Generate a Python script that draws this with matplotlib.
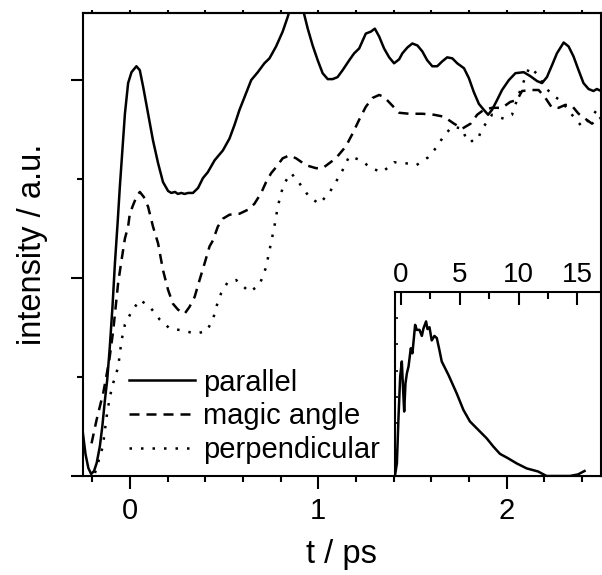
import matplotlib
matplotlib.use("Agg")
import matplotlib.pyplot as plt
import numpy as np
from matplotlib.ticker import MultipleLocator, FixedLocator

plt.rcParams['font.family'] = ['Liberation Sans', 'DejaVu Sans']

# ---- data ----
par_t = [-0.25, -0.235, -0.22, -0.205, -0.19, -0.176, -0.159, -0.146, -0.132, -0.12, -0.106,
         -0.092, -0.079, -0.065, -0.053, -0.026, -0.009, 0.009, 0.035, 0.053, 0.071, 0.097,
         0.123, 0.150, 0.176, 0.203, 0.220, 0.24, 0.255, 0.273, 0.29, 0.31, 0.335, 0.362, 0.388,
         0.414, 0.450, 0.494, 0.529, 0.556, 0.582, 0.609, 0.644, 0.679, 0.714, 0.741,
         0.776, 0.811, 0.838, 0.86, 0.885, 0.91, 0.944, 0.970, 0.997, 1.023, 1.050, 1.076,
         1.102, 1.129, 1.164, 1.190, 1.217, 1.252, 1.279, 1.300, 1.323, 1.349, 1.376, 1.402,
         1.429, 1.446, 1.473, 1.499, 1.526, 1.552, 1.578, 1.605, 1.631, 1.658, 1.684, 1.711,
         1.737, 1.773, 1.799, 1.825, 1.852, 1.878, 1.901, 1.922, 1.949, 1.975, 2.011, 2.046,
         2.090, 2.125, 2.161, 2.187, 2.213, 2.240, 2.266, 2.302, 2.328, 2.354, 2.381, 2.407,
         2.434, 2.460, 2.478, 2.5]
par_y = [0.45, 0.22, 0.08, 0.02, 0.05, 0.13, 0.30, 0.50, 0.77, 0.97, 1.31,
         1.71, 2.15, 2.55, 2.92, 3.66, 3.97, 4.08, 4.14, 4.10, 3.93, 3.66,
         3.39, 3.16, 2.97, 2.88, 2.86, 2.87, 2.85, 2.86, 2.85, 2.86, 2.86, 2.91, 3.01,
         3.07, 3.19, 3.29, 3.41, 3.55, 3.70, 3.83, 4.00, 4.08, 4.17, 4.22,
         4.34, 4.49, 4.64, 4.78, 4.86, 4.78, 4.52, 4.35, 4.20, 4.07, 4.01, 4.01,
         4.03, 4.10, 4.20, 4.27, 4.32, 4.47, 4.49, 4.52, 4.44, 4.32, 4.23, 4.17,
         4.21, 4.27, 4.33, 4.37, 4.35, 4.29, 4.20, 4.14, 4.14, 4.19, 4.23, 4.22,
         4.17, 4.12, 4.02, 3.88, 3.76, 3.70, 3.65, 3.70, 3.80, 3.90, 4.00, 4.07,
         4.08, 4.04, 3.99, 3.97, 4.03, 4.15, 4.27, 4.38, 4.34, 4.24, 4.10, 3.97,
         3.91, 3.89, 3.91, 3.89]

mag_t = [-0.203, -0.176, -0.141, -0.109, -0.088, -0.062, -0.044, -0.026, -0.009, 0.0,
         0.018, 0.035, 0.053, 0.074, 0.097, 0.123, 0.150, 0.176, 0.203, 0.229, 0.256,
         0.291, 0.317, 0.344, 0.370, 0.397, 0.423, 0.441, 0.467, 0.494, 0.529, 0.582,
         0.626, 0.661, 0.697, 0.723, 0.750, 0.776, 0.811, 0.847, 0.882, 0.935, 0.988,
         1.023, 1.058, 1.093, 1.146, 1.182, 1.217, 1.252, 1.288, 1.323, 1.349, 1.394,
         1.429, 1.482, 1.552, 1.614, 1.667, 1.720, 1.764, 1.808, 1.843, 1.878, 1.922,
         1.975, 2.019, 2.055, 2.081, 2.134, 2.169, 2.205, 2.240, 2.275, 2.311, 2.346,
         2.381, 2.416, 2.452, 2.5]
mag_y = [0.33, 0.57, 0.84, 1.17, 1.47, 1.95, 2.18, 2.40, 2.52, 2.65,
         2.74, 2.82, 2.87, 2.82, 2.72, 2.52, 2.35, 2.08, 1.88, 1.74, 1.68,
         1.64, 1.71, 1.81, 1.98, 2.15, 2.32, 2.38, 2.52, 2.60, 2.64, 2.65,
         2.69, 2.75, 2.86, 2.97, 3.06, 3.12, 3.21, 3.24, 3.21, 3.14, 3.11,
         3.11, 3.16, 3.21, 3.33, 3.46, 3.60, 3.73, 3.82, 3.85, 3.83, 3.74,
         3.67, 3.66, 3.66, 3.65, 3.63, 3.56, 3.51, 3.56, 3.65, 3.70, 3.72,
         3.72, 3.78, 3.80, 3.89, 3.90, 3.90, 3.82, 3.72, 3.72, 3.75, 3.74,
         3.66, 3.61, 3.56, 3.62]

per_t = [-0.185, -0.169, -0.143, -0.123, -0.106, -0.088, -0.062, -0.044, -0.026, 0.009,
         0.053, 0.106, 0.159, 0.212, 0.282, 0.344, 0.406, 0.441, 0.459, 0.485, 0.520,
         0.564, 0.635, 0.688, 0.723, 0.741, 0.767, 0.785, 0.803, 0.820, 0.856, 0.899,
         0.952, 1.005, 1.058, 1.093, 1.129, 1.164, 1.228, 1.279, 1.340, 1.402, 1.464,
         1.520, 1.583, 1.631, 1.667, 1.711, 1.764, 1.790, 1.843, 1.870, 1.922, 1.984,
         2.028, 2.072, 2.095, 2.120, 2.169, 2.205, 2.258, 2.293, 2.346, 2.399, 2.452, 2.5]
per_y = [0.03, 0.13, 0.30, 0.60, 0.80, 0.94, 1.10, 1.37, 1.53, 1.66,
         1.78, 1.71, 1.58, 1.49, 1.47, 1.44, 1.46, 1.58, 1.71, 1.85, 1.96,
         1.98, 1.86, 1.93, 2.11, 2.28, 2.52, 2.72, 2.86, 2.96, 3.06, 2.96,
         2.82, 2.75, 2.86, 2.97, 3.09, 3.23, 3.19, 3.11, 3.07, 3.17, 3.16,
         3.14, 3.22, 3.33, 3.44, 3.53, 3.51, 3.38, 3.39, 3.51, 3.65, 3.61,
         3.65, 3.90, 4.01, 4.13, 4.05, 3.92, 3.83, 3.78, 3.65, 3.53, 3.63, 3.76]

ins_t = [-0.48, -0.34, -0.2, -0.06, 0.08, 0.19, 0.28, 0.39, 0.51, 0.65, 0.84, 0.98,
         1.21, 1.35, 1.58, 1.78, 1.92, 2.14, 2.26, 2.43, 2.62, 2.85, 3.05, 3.27, 3.47,
         4.04, 4.74, 5.31, 5.87, 6.58, 7.29, 7.85, 8.42, 9.12, 9.83, 10.68, 11.66,
         12.37, 13.2, 14.35, 15.05, 15.6]
ins_y = [0.08, 0.48, 2.26, 3.78, 4.35, 3.27, 2.45, 3.52, 3.90, 4.16, 4.85, 4.66,
         5.74, 5.55, 5.55, 5.32, 5.61, 5.87, 5.58, 5.65, 5.15, 5.32, 5.24, 4.79, 4.35,
         3.84, 3.14, 2.51, 2.07, 1.75, 1.43, 1.12, 0.84, 0.67, 0.48, 0.29, 0.17,
         0.0, 0.0, 0.0, 0.06, 0.19]

labels = ["parallel", "magic angle", "perpendicular"]
main_xticks = [0, 1, 2]
inset_xticks = [0, 5, 10, 15]

# ---- figure ----
W, H = 602, 575
fig = plt.figure(figsize=(W / 100, H / 100), dpi=100)

L, R, B, T = 82.7, 601, 476, 13.3
ax = fig.add_axes([L / W, 1 - B / H, (R - L) / W, (B - T) / H])
lw = 1.8
ax.plot(par_t, par_y, color='black', lw=lw, ls='-', label=labels[0])
ax.plot(mag_t, mag_y, color='black', lw=lw, ls=(0, (4, 2.8)), label=labels[1])
ax.plot(per_t, per_y, color='black', lw=lw, ls=(0, (1.0, 3.6)), label=labels[2])

ax.set_xlim(-0.25, 2.5)
ax.set_ylim(0, 4.675)
for s in ax.spines.values():
    s.set_linewidth(1.5)

ax.xaxis.set_major_locator(FixedLocator(main_xticks))
ax.xaxis.set_minor_locator(MultipleLocator(0.2))
ax.yaxis.set_major_locator(FixedLocator([0, 2, 4]))
ax.yaxis.set_minor_locator(FixedLocator([1, 3]))
ax.tick_params(axis='x', which='major', direction='out', length=9, width=1.5,
               labelsize=21, pad=6, top=False)
ax.tick_params(axis='x', which='minor', direction='out', length=4.5, width=1.5)
ax.tick_params(axis='y', which='major', direction='out', length=9, width=1.5, labelleft=False,
               right=False)
ax.tick_params(axis='y', which='minor', direction='out', length=4.5, width=1.5)
# small top ticks
secx = ax.secondary_xaxis('top')
secx.xaxis.set_major_locator(MultipleLocator(0.2))
secx.tick_params(direction='out', length=2, width=1.5, labeltop=False)
secx.spines['top'].set_linewidth(1.5)

ax.set_xlabel("t / ps", fontsize=23.5, labelpad=10)
ax.set_ylabel("intensity / a.u.", fontsize=23.5, labelpad=16)

leg = ax.legend(loc='upper left', bbox_to_anchor=(0.09, 0.232), frameon=False,
                fontsize=21, handlelength=2.26, handletextpad=0.27, labelspacing=0.2,
                borderpad=0, borderaxespad=0)

# ---- inset ----
IL, IT = 395, 291.7
axi = fig.add_axes([IL / W, 1 - B / H, (R - IL) / W, (B - IT) / H])
axi.plot(ins_t, ins_y, color='black', lw=lw)
axi.set_xlim(-0.5, 17)
axi.set_ylim(0, 7)
for s in axi.spines.values():
    s.set_linewidth(1.5)
axi.xaxis.set_major_locator(FixedLocator(inset_xticks))
axi.xaxis.set_minor_locator(MultipleLocator(2.5))
axi.yaxis.set_major_locator(MultipleLocator(1))
axi.tick_params(axis='x', which='both', top=True, bottom=False, labeltop=True,
                labelbottom=False, direction='in', width=1.5, labelsize=20, pad=3)
axi.tick_params(axis='x', which='major', length=9)
axi.tick_params(axis='x', which='minor', length=5)
axi.tick_params(axis='y', which='major', direction='in', length=2.5, width=1.2,
                labelleft=False)

fig.savefig("out.png", dpi=100)
